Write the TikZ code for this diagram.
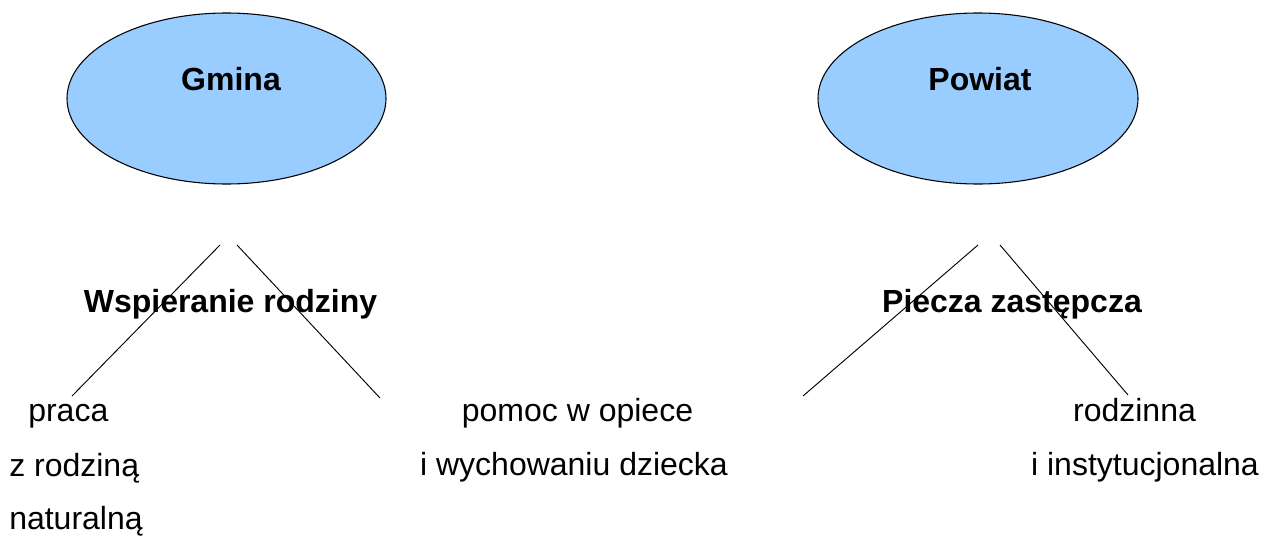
\documentclass[tikz,border=0pt]{standalone}
\usepackage{fontspec}
\setmainfont{Liberation Sans}
\definecolor{ellblue}{HTML}{99CCFF}
\begin{document}
\begin{tikzpicture}[x=0.75pt,y=-0.75pt,
  ellfill/.style={fill=ellblue,draw=black,line width=0.8pt},
  boldtxt/.style={font=\fontsize{24}{28}\selectfont\bfseries,inner sep=0pt},
  txt/.style={font=\fontsize{24}{28}\selectfont,inner sep=0pt},
  conn/.style={draw=black,line width=0.7pt}]
\useasboundingbox (0,0) rectangle (1262,535);
% ellipses
\path[ellfill] (226.5,98.5) ellipse [x radius=159.5,y radius=85.5];
\path[ellfill] (978,98.5) ellipse [x radius=160,y radius=85.5];
\node[boldtxt,anchor=base] (gmina) at (231,90) {Gmina};
\node[boldtxt,anchor=base] (powiat) at (980,90) {Powiat};
% headings
\node[boldtxt,anchor=base] (wsp) at (230.5,312) {Wspieranie rodziny};
\node[boldtxt,anchor=base] (piecza) at (1012,312) {Piecza zastępcza};
% connector coordinates
\coordinate (l1a) at (220,245);
\coordinate (l1b) at (72,396);
\coordinate (l2a) at (237,245);
\coordinate (l2b) at (380,398);
\coordinate (r1a) at (978,245);
\coordinate (r1b) at (803,396);
\coordinate (r2a) at (1000,245);
\coordinate (r2b) at (1128,395);
\draw[conn] (l1a) -- (l1b);
\draw[conn] (l2a) -- (l2b);
\draw[conn] (r1a) -- (r1b);
\draw[conn] (r2a) -- (r2b);
% bottom texts
\node[txt,anchor=base west] (t1) at (28,421) {praca};
\node[txt,anchor=base west] (t2) at (9,476) {z rodziną};
\node[txt,anchor=base west] (t3) at (9,529) {naturalną};
\node[txt,anchor=base] (t4) at (577.5,421) {pomoc w opiece};
\node[txt,anchor=base] (t5) at (574,475) {i wychowaniu dziecka};
\node[txt,anchor=base] (t6) at (1134.5,421) {rodzinna};
\node[txt,anchor=base] (t7) at (1145,475) {i instytucjonalna};
\end{tikzpicture}
\end{document}
